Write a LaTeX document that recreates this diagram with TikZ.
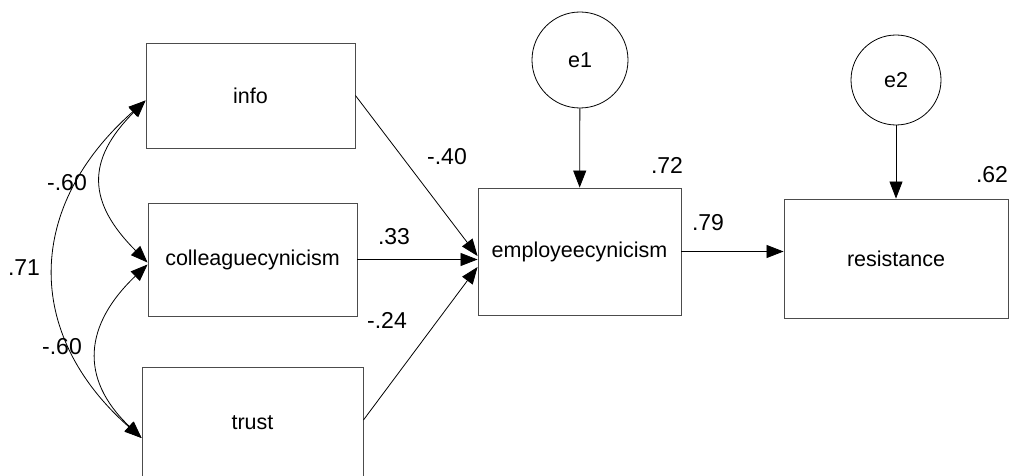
\documentclass[tikz,border=0pt]{standalone}
\usepackage{fontspec}
\setmainfont{Liberation Sans}
\usetikzlibrary{arrows.meta}

\begin{document}
\begin{tikzpicture}[x=1pt,y=-1pt,
    box/.style={draw=black!70,line width=0.9pt,font=\fontsize{21.5}{24}\selectfont,inner sep=0pt},
    err/.style={draw,circle,line width=0.8pt,font=\fontsize{21.5}{24}\selectfont,inner sep=0pt},
    coef/.style={font=\fontsize{23}{26}\selectfont,inner sep=0pt},
    path/.style={line width=0.8pt,-{Triangle[length=17pt,width=13pt]}},
    cov/.style={line width=0.8pt,{Triangle[length=17pt,width=13pt]}-{Triangle[length=17pt,width=13pt]}}]

    \useasboundingbox (0,0) rectangle (1014,476);

    % observed variables
    \node[box,minimum width=209pt,minimum height=105pt] (info) at (250.5,95.5) {info};
    \node[box,minimum width=209pt,minimum height=113pt] (colleague) at (252.5,259.5) {colleaguecynicism};
    \node[box,minimum width=221pt,minimum height=112pt] (trust) at (252.5,423) {trust};
    \node[box,minimum width=203pt,minimum height=127pt] (employee) at (579.5,251.5) {employeecynicism};
    \node[box,minimum width=224pt,minimum height=119pt] (resistance) at (896,258.5) {resistance};

    % errors
    \node[err,minimum size=96pt] (e1) at (580,60) {e1};
    \node[err,minimum size=90pt] (e2) at (896,80) {e2};

    % correlations
    \draw[cov] ([yshift=-5pt]info.west) .. controls +(-60,60) and +(-60,-60) .. ([yshift=-3pt]colleague.west);
    \draw[cov] ([yshift=-5pt]colleague.west) .. controls +(-63,60) and +(-63,-60) .. ([yshift=-15pt]trust.west);
    \draw[cov] ([yshift=-5pt]info.west) .. controls +(-119,105) and +(-119,-105) .. ([yshift=-15pt]trust.west);
    \node[coef] (r1) at (67,183) {-.60};
    \node[coef] (r2) at (24,268) {.71};
    \node[coef] (r3) at (62,347) {-.60};

    % regressions
    \draw[path] (info.east) -- ([yshift=-4.5pt]employee.west);
    \draw[path] (colleague.east) -- (colleague.east -| employee.west);
    \draw[path] ([yshift=3pt]trust.east) -- ([yshift=-15.5pt]employee.west);
    \draw[path] (employee.east) -- (employee.east -| resistance.west);
    \draw[path] (e1) -- (employee);
    \draw[path] (e2) -- (resistance);
    \node[coef] (b1) at (447,157) {-.40};
    \node[coef] (b2) at (394,237) {.33};
    \node[coef] (b3) at (387,320) {-.24};
    \node[coef] (b4) at (708,223) {.79};
    \node[coef] (sq1) at (667,165) {.72};
    \node[coef] (sq2) at (992,175) {.62};
\end{tikzpicture}
\end{document}
